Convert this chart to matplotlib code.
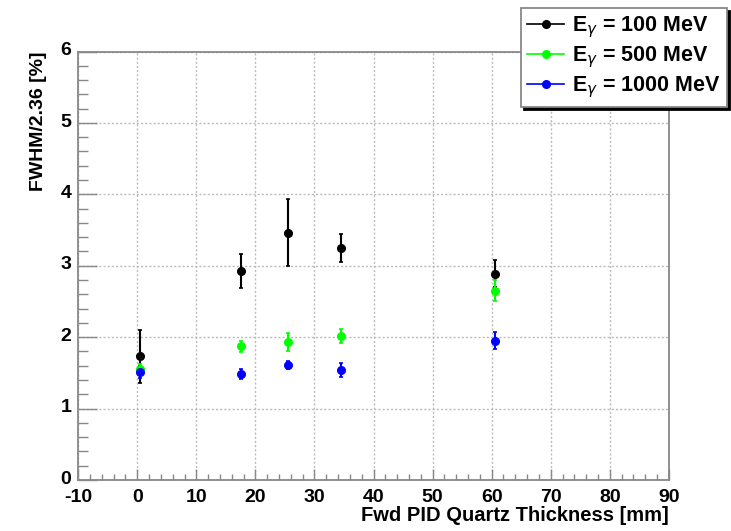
import numpy as np
import matplotlib.pyplot as plt
import matplotlib.transforms as mtransforms
from matplotlib.lines import Line2D
from matplotlib.ticker import MultipleLocator

plt.rcParams['font.family'] = ['Liberation Sans', 'DejaVu Sans']
plt.rcParams['mathtext.fontset'] = 'custom'
plt.rcParams['mathtext.bf'] = 'Liberation Sans:bold'
plt.rcParams['mathtext.rm'] = 'Liberation Sans'
plt.rcParams['axes.unicode_minus'] = False

# data
thickness = [0.5, 17.5, 25.5, 34.5, 60.5]
fwhm_100 = [1.73, 2.93, 3.46, 3.25, 2.89]
err_100 = [0.37, 0.24, 0.47, 0.20, 0.19]
fwhm_500 = [1.56, 1.87, 1.93, 2.02, 2.65]
err_500 = [0.06, 0.08, 0.13, 0.10, 0.15]
fwhm_1000 = [1.51, 1.49, 1.61, 1.54, 1.95]
err_1000 = [0.08, 0.07, 0.06, 0.10, 0.12]

series = [
    (fwhm_100, err_100, 'black', r'$\mathbf{E}_{\gamma}$ = 100 MeV'),
    (fwhm_500, err_500, '#00ff00', r'$\mathbf{E}_{\gamma}$ = 500 MeV'),
    (fwhm_1000, err_1000, '#0000ff', r'$\mathbf{E}_{\gamma}$ = 1000 MeV'),
]

fig = plt.figure(figsize=(7.31, 5.31), dpi=100)
ax = fig.add_axes([0.107, 0.096, 0.808, 0.807])

handles = []
for y, e, c, lab in series:
    ax.errorbar(thickness, y, yerr=e, fmt='o', color=c, ms=5.5, elinewidth=1.5,
                capsize=1.5, capthick=1.2, zorder=3)
    handles.append(Line2D([], [], color=c, marker='o', ms=5.5, lw=1.2, label=lab))

ax.set_xlim(-10, 90)
ax.set_ylim(0, 6)
ax.xaxis.set_major_locator(MultipleLocator(10))
ax.xaxis.set_minor_locator(MultipleLocator(2))
ax.yaxis.set_major_locator(MultipleLocator(1))
ax.yaxis.set_minor_locator(MultipleLocator(0.2))
ax.grid(True, which='major', color='#bbbbbb', ls=(0, (1.5, 1.5)), lw=1.0)
for s in ax.spines.values():
    s.set_color('#888888')
    s.set_linewidth(1.3)
ax.tick_params(axis='x', which='major', direction='in', length=8, width=1, color='#888888',
               labelsize=14, pad=6.5)
ax.tick_params(axis='x', which='minor', direction='in', length=4.3, width=1, color='#888888')
ax.tick_params(axis='y', which='major', direction='in', length=13.5, width=1, color='#888888',
               labelsize=14, pad=5)
ax.tick_params(axis='y', which='minor', direction='in', length=7, width=1, color='#888888')
for t in ax.get_xticklabels() + ax.get_yticklabels():
    t.set_fontweight('bold')

# nudge y tick labels up a little so "0" clears "-10"
shift = mtransforms.ScaledTranslation(0, 2 / 72, fig.dpi_scale_trans)
for t in ax.get_yticklabels():
    t.set_transform(t.get_transform() + shift)

ax.set_xlabel('Fwd PID Quartz Thickness [mm]', fontsize=14.5, fontweight='bold', loc='right', labelpad=0)
ax.set_ylabel('FWHM/2.36 [%]', fontsize=14, fontweight='bold', loc='top', labelpad=10)

leg = fig.legend(handles=handles, loc='upper right', bbox_to_anchor=(0.995, 0.985),
                 prop={'weight': 'bold', 'size': 15.5}, frameon=True, fancybox=False,
                 shadow={'color': 'black', 'alpha': 1}, handlelength=1.7, handletextpad=0.4,
                 labelspacing=0.2, borderpad=0.3, borderaxespad=0)
leg.get_frame().set_edgecolor('#888888')
leg.get_frame().set_linewidth(1.3)

fig.savefig('out.png', dpi=100)
